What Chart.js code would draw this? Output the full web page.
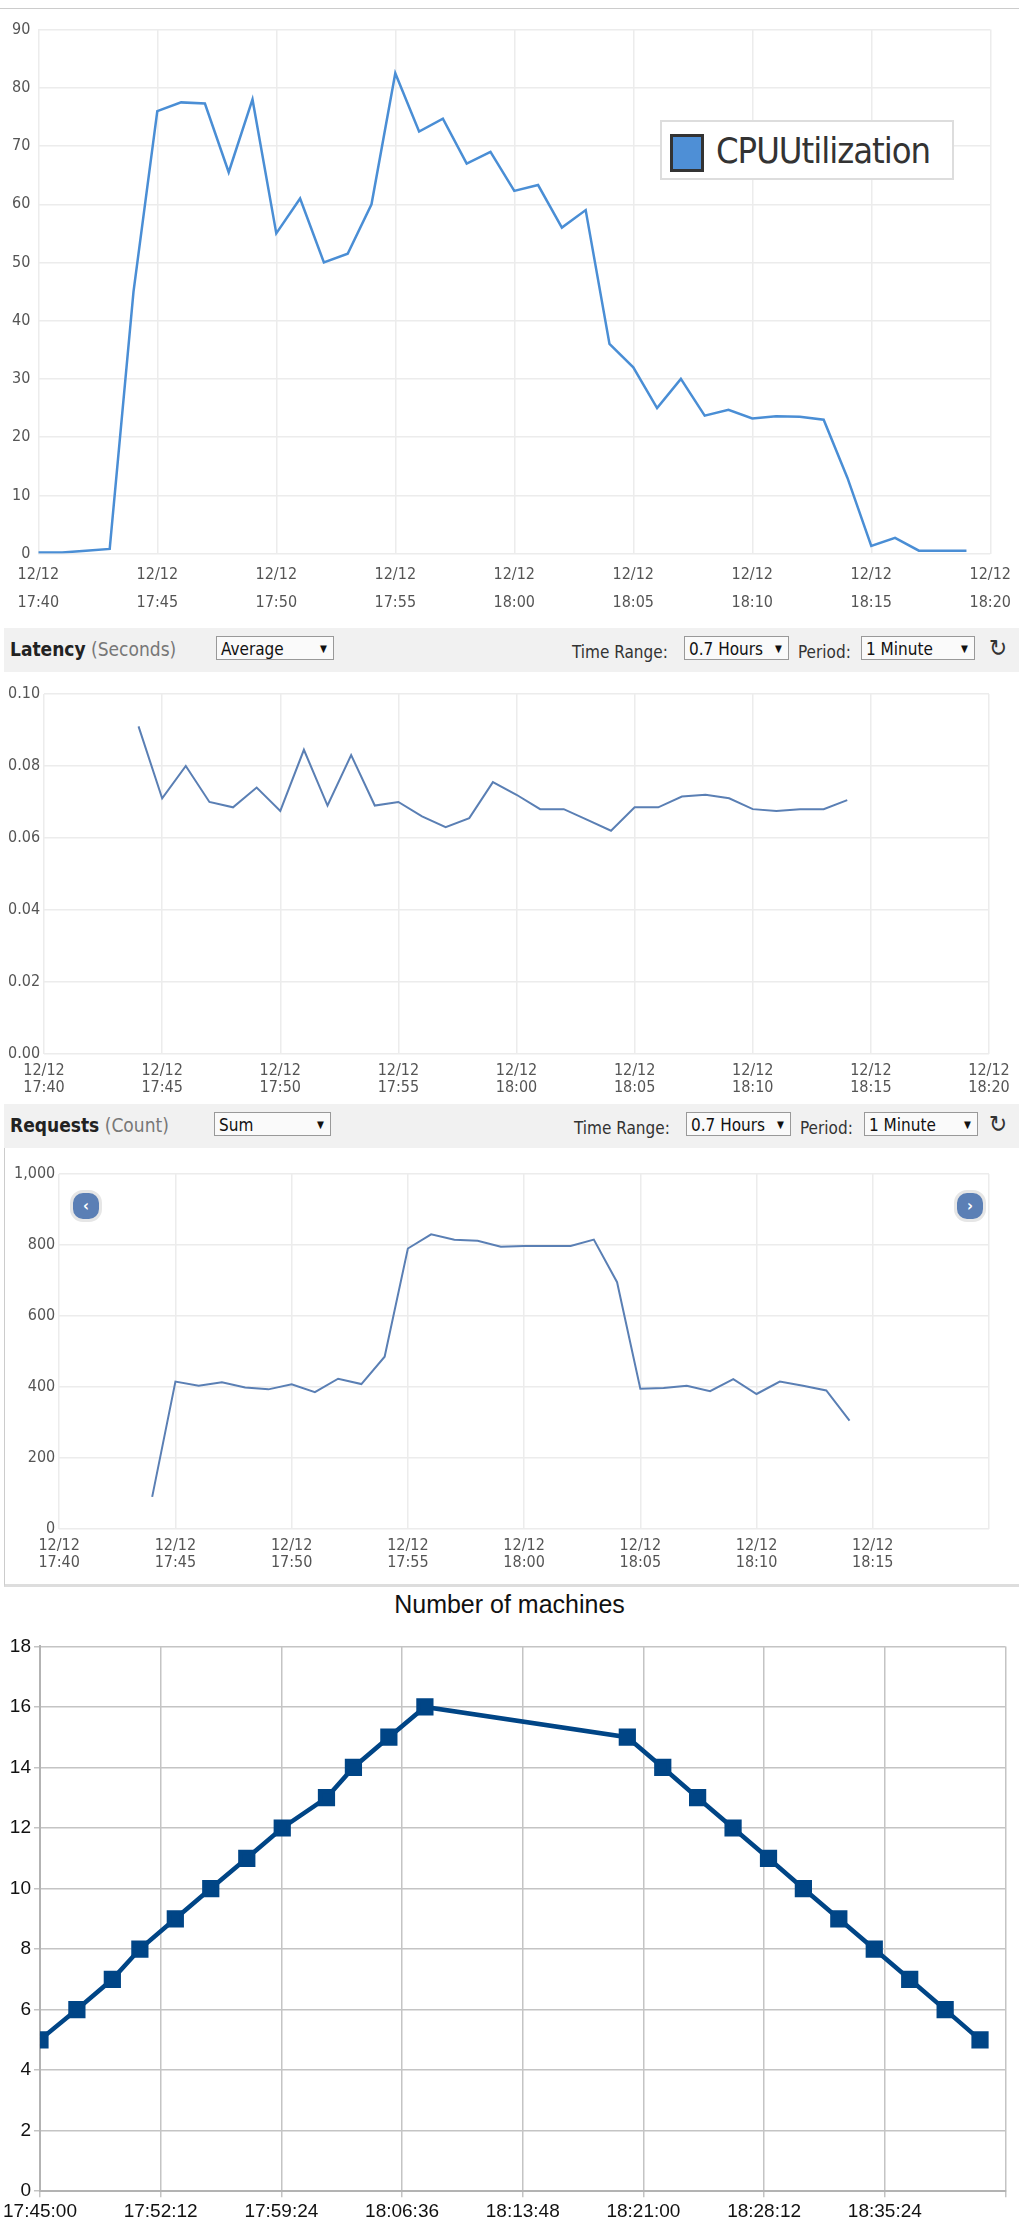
<!DOCTYPE html>
<html>
<head>
<meta charset="utf-8">
<script src="https://cdn.jsdelivr.net/npm/chart.js@4"></script>
<style>
  body { margin: 0; width: 1019px; height: 2226px; background: #fff; position: relative; font-family: "DejaVu Sans Condensed", "Liberation Sans", sans-serif; overflow: hidden; }
  .box { position: absolute; }
  .bar { position: absolute; left: 4px; width: 1015px; height: 44px; background: #f1f1f1; font-size: 19px; color: #333; }
  .bar .ttl { position: absolute; left: 6px; top: 10px; }
  .bar b { color: #222; }
  .bar .unit { color: #777; }
  .sel { position: absolute; top: 8px; height: 24px; border: 1px solid #999; background: #fafafa; font-size: 17px; line-height: 24px; padding-left: 4px; box-sizing: border-box; color: #111; }
  .sel:after { content: "▼"; position: absolute; right: 6px; font-size: 10px; }
  .lbl { position: absolute; top: 14px; font-size: 17px; color: #333; }
  .refresh { position: absolute; right: 12px; top: 6px; font-size: 24px; color: #333; }
  .nav { position: absolute; width: 26px; height: 26px; border-radius: 13px; background: #5b7fb5; color: #fff; font-size: 16px; text-align: center; line-height: 26px; font-weight: bold; border: 3px solid #e6e6e6; }
</style>
</head>
<body>
<div class="box" style="left:0;top:8px;width:1019px;border-top:1px solid #ccc;"></div>
<div class="box" style="left:0;top:12px;width:1019px;height:612px;"><canvas id="cpu"></canvas></div>
<div class="box" style="left:660px;top:120px;width:290px;height:56px;border:2px solid #ddd;background:#fff;">
  <div style="position:absolute;left:8px;top:12px;width:34px;height:38px;background:#4e8fd6;border:3px solid #333;box-sizing:border-box;"></div>
  <div style="position:absolute;left:54px;top:8px;font-size:36px;color:#333;letter-spacing:-1px;">CPUUtilization</div>
</div>

<div class="bar" style="top:628px;">
  <div class="ttl"><b>Latency</b> <span class="unit">(Seconds)</span></div>
  <div class="sel" style="left:212px;width:118px;">Average</div>
  <div class="lbl" style="left:568px;">Time Range:</div>
  <div class="sel" style="left:680px;width:105px;">0.7 Hours</div>
  <div class="lbl" style="left:794px;">Period:</div>
  <div class="sel" style="left:857px;width:114px;">1 Minute</div>
  <div class="refresh">↻</div>
</div>
<div class="box" style="left:0;top:680px;width:1019px;height:425px;"><canvas id="lat"></canvas></div>

<div class="bar" style="top:1104px;">
  <div class="ttl"><b>Requests</b> <span class="unit">(Count)</span></div>
  <div class="sel" style="left:210px;width:117px;">Sum</div>
  <div class="lbl" style="left:570px;">Time Range:</div>
  <div class="sel" style="left:682px;width:105px;">0.7 Hours</div>
  <div class="lbl" style="left:796px;">Period:</div>
  <div class="sel" style="left:860px;width:114px;">1 Minute</div>
  <div class="refresh">↻</div>
</div>
<div class="box" style="left:4px;top:1148px;width:1015px;height:436px;border-left:1px solid #ccc;border-bottom:3px solid #ddd;"></div>
<div class="box" style="left:0;top:1160px;width:1019px;height:420px;"><canvas id="req"></canvas></div>
<div class="nav" style="left:70px;top:1190px;">‹</div>
<div class="nav" style="left:954px;top:1190px;">›</div>

<div class="box" style="left:0;top:1590px;width:1019px;text-align:center;font-family:'Liberation Sans',sans-serif;font-size:25px;color:#111;">Number of machines</div>
<div class="box" style="left:0;top:1632px;width:1019px;height:594px;"><canvas id="mach"></canvas></div>

<script>
// ─── Data ──────────────────────────────────────
// minutes after 17:40
const cpuValues = [0.2, 0.2, 0.5, 0.8, 45, 76, 77.5, 77.3, 65.5, 78, 55, 61, 50, 51.5, 60, 82.5, 72.5, 74.7, 67, 69,
  62.3, 63.3, 56, 59, 36, 32, 25, 30, 23.7, 24.7, 23.2, 23.6, 23.5, 23, 13, 1.3, 2.7, 0.5, 0.5, 0.5];
const cpuTicks = ['17:40', '17:45', '17:50', '17:55', '18:00', '18:05', '18:10', '18:15', '18:20'];

const latencyStart = 4;
const latencyValues = [0.091, 0.071, 0.080, 0.070, 0.0685, 0.074, 0.0675, 0.0845, 0.069, 0.083, 0.069, 0.070, 0.066,
  0.063, 0.0655, 0.0755, 0.072, 0.068, 0.068, 0.065, 0.062, 0.0685, 0.0685, 0.0715, 0.072, 0.071, 0.068, 0.0675,
  0.068, 0.068, 0.0705];

const requestStart = 4;
const requestValues = [90, 415, 403, 413, 398, 393, 407, 385, 423, 408, 485, 790, 830, 815, 812, 795, 797, 797, 797,
  815, 695, 395, 397, 403, 388, 422, 380, 415, 403, 390, 305];
const requestTicks = ['17:40', '17:45', '17:50', '17:55', '18:00', '18:05', '18:10', '18:15'];

// seconds after 17:45:00
const machineSeconds = [0, 126, 247, 341, 462, 583, 706, 827, 978, 1070, 1191, 1314, 2005, 2126, 2245, 2366, 2487,
  2606, 2727, 2848, 2969, 3090, 3209];
const machineCounts = [5, 6, 7, 8, 9, 10, 11, 12, 13, 14, 15, 16, 15, 14, 13, 12, 11, 10, 9, 8, 7, 6, 5];
const machineTicks = ['17:45:00', '17:52:12', '17:59:24', '18:06:36', '18:13:48', '18:21:00', '18:28:12', '18:35:24'];

const toPoints = (start, vals) => vals.map((v, i) => ({ x: start + i, y: v }));
const awsFont = { family: '"DejaVu Sans Condensed", sans-serif', size: 16 };

function awsChart(id, data, color, width, yOpts, xTicks, xMax, pad, lineHeight) {
    return new Chart(document.getElementById(id), {
        type: 'line',
        data: { datasets: [{ data: data, borderColor: color, borderWidth: width, pointRadius: 0, tension: 0, fill: false }] },
        options: {
            responsive: true, maintainAspectRatio: false, animation: false,
            layout: { padding: pad },
            plugins: { legend: { display: false }, tooltip: { enabled: false } },
            scales: {
                x: {
                    type: 'linear', min: 0, max: xMax,
                    ticks: {
                        stepSize: 5, color: '#555', font: Object.assign({ lineHeight: lineHeight }, awsFont),
                        maxRotation: 0, autoSkip: false, padding: 8,
                        callback: v => xTicks[v / 5] !== undefined ? ['12/12', xTicks[v / 5]] : ''
                    },
                    grid: { color: '#ececec', lineWidth: 1.5, drawTicks: false },
                    border: { display: false }
                },
                y: Object.assign({
                    grid: { color: '#ececec', lineWidth: 1.5, drawTicks: false },
                    border: { display: false }
                }, yOpts)
            }
        }
    });
}

awsChart('cpu', toPoints(0, cpuValues), '#4a8ed5', 2.5,
    { min: 0, max: 90, ticks: { stepSize: 10, color: '#555', font: awsFont, padding: 8 } },
    cpuTicks, 40, { left: 4, right: 28, top: 14, bottom: 0 }, 1.7);

awsChart('lat', toPoints(latencyStart, latencyValues), '#5a7fb4', 2,
    { min: 0, max: 0.1, ticks: { stepSize: 0.02, color: '#555', font: awsFont, padding: 4, callback: v => v.toFixed(2) } },
    cpuTicks, 40, { left: 4, right: 30, top: 14, bottom: 0 }, 1.1);

awsChart('req', toPoints(requestStart, requestValues), '#5a7fb4', 2,
    { min: 0, max: 1000, ticks: { stepSize: 200, color: '#555', font: awsFont, padding: 4, callback: v => v.toLocaleString('en-US') } },
    requestTicks, 40, { left: 10, right: 30, top: 14, bottom: 0 }, 1.1);

new Chart(document.getElementById('mach'), {
    type: 'line',
    data: {
        datasets: [{
            data: machineSeconds.map((s, i) => ({ x: s, y: machineCounts[i] })),
            borderColor: '#004586', backgroundColor: '#004586', borderWidth: 4.5,
            pointStyle: 'rect', pointRadius: 9, tension: 0
        }]
    },
    options: {
        responsive: true, maintainAspectRatio: false, animation: false,
        layout: { padding: { left: 4, right: 6, top: 10, bottom: 0 } },
        plugins: { legend: { display: false }, tooltip: { enabled: false } },
        scales: {
            x: {
                type: 'linear', min: 0, max: 3296,
                ticks: {
                    stepSize: 432, color: '#111', maxRotation: 0, autoSkip: false,
                    font: { family: '"Liberation Sans", sans-serif', size: 19 },
                    callback: v => machineTicks[Math.round(v / 432)] || ''
                },
                grid: { color: '#c4c4c4', lineWidth: 1.5, tickLength: 6 },
                border: { color: '#b3b3b3', width: 2 }
            },
            y: {
                min: 0, max: 18,
                ticks: { stepSize: 2, color: '#111', font: { family: '"Liberation Sans", sans-serif', size: 19 } },
                grid: { color: '#c4c4c4', lineWidth: 1.5, tickLength: 6 },
                border: { color: '#b3b3b3', width: 2 }
            }
        }
    }
});
</script>
</body>
</html>
